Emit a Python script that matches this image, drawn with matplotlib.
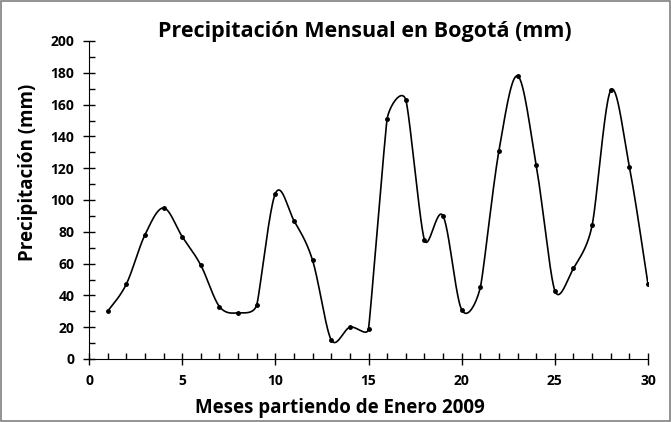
import numpy as np
import matplotlib
matplotlib.use("Agg")
import matplotlib.pyplot as plt
import matplotlib.ticker as ticker
from matplotlib.patches import Rectangle

months = list(range(1, 31))
precip = [30, 47, 78, 95, 77, 59, 33, 29, 34, 104,
          87, 62, 12, 20, 19, 151, 163, 75, 90, 31,
          45, 131, 178, 122, 43, 57, 84, 169, 121, 47]

# pixel size of one data unit, used so the smoothing behaves like Excel's
XSCALE = 559 / 30.
YSCALE = 318 / 200.


def smooth(x, y, n=40):
    # Excel-like smoothed line: bezier segments, tangents clipped on short segments
    P = np.column_stack([np.asarray(x, float) * XSCALE,
                         np.asarray(y, float) * YSCALE])
    N = len(P)
    tang = np.zeros_like(P)
    for i in range(N):
        a = P[max(i - 1, 0)]
        b = P[min(i + 1, N - 1)]
        T = b - a
        d02 = np.hypot(*T)
        f = 1 / 6.
        if 0 < i < N - 1:
            d01 = np.hypot(*(P[i] - a))
            d12 = np.hypot(*(b - P[i]))
            f = min(f, d01 / (2 * d02), d12 / (2 * d02))
        tang[i] = T * f
    t = np.linspace(0, 1, n)[:, None]
    segs = []
    for i in range(N - 1):
        p1, p2 = P[i], P[i + 1]
        c1 = p1 + tang[i]
        c2 = p2 - tang[i + 1]
        segs.append((1 - t)**3 * p1 + 3 * (1 - t)**2 * t * c1
                    + 3 * (1 - t) * t**2 * c2 + t**3 * p2)
    S = np.vstack(segs)
    return S[:, 0] / XSCALE, S[:, 1] / YSCALE


plt.rcParams['font.family'] = ['Open Sans', 'DejaVu Sans']
plt.rcParams['font.weight'] = 'bold'

fig = plt.figure(figsize=(6.71, 4.22), dpi=100)
ax = fig.add_axes([89/671, 1 - 359/422, (648 - 89)/671, (359 - 41)/422])

sx, sy = smooth(months, precip)
ax.plot(sx, sy, color='black', linewidth=1.2)
ax.plot(months, precip, 'o', color='black', markersize=2.5)

ax.set_xlim(0, 30)
ax.set_ylim(0, 200)
ax.xaxis.set_major_locator(ticker.MultipleLocator(5))
ax.xaxis.set_minor_locator(ticker.MultipleLocator(1))
ax.yaxis.set_major_locator(ticker.MultipleLocator(20))
ax.yaxis.set_minor_locator(ticker.MultipleLocator(10))
ax.tick_params(which='major', direction='inout', length=9, width=1,
               labelsize=10, pad=6)
ax.tick_params(which='minor', direction='in', length=4, width=1)
for lab in ax.get_xticklabels() + ax.get_yticklabels():
    lab.set_fontweight('bold')

for s in ('top', 'right'):
    ax.spines[s].set_visible(False)

fig.text(365/671, 1 - 31/422, 'Precipitación Mensual en Bogotá (mm)',
         fontsize=15.5, fontweight='bold', ha='center', va='center')
fig.text(340/671, 1 - 408/422, 'Meses partiendo de Enero 2009',
         fontsize=13.5, fontweight='bold', ha='center', va='center')
fig.text(28/671, 1 - 172/422, 'Precipitación (mm)', rotation=90,
         fontsize=13.5, fontweight='bold', ha='center', va='center')

fig.patches.append(Rectangle((0.002, 0.002), 0.996, 0.995, transform=fig.transFigure,
                             fill=False, edgecolor='#808080', linewidth=1.2))

fig.savefig('out.png', dpi=100)
